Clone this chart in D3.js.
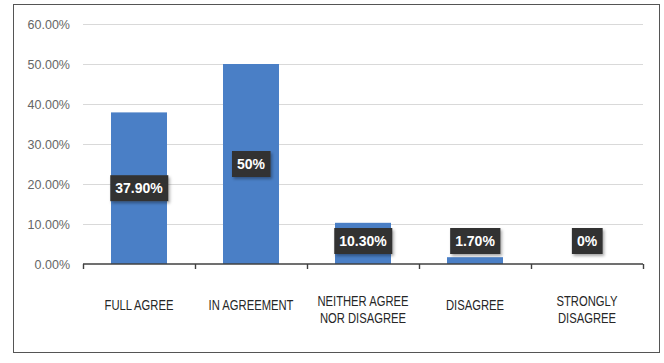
<!DOCTYPE html>
<html><head><meta charset="utf-8">
<script src="https://cdn.jsdelivr.net/npm/d3@7"></script>
<style>
html,body{margin:0;padding:0;background:#fff;}
svg{display:block;}
text{font-family:"Liberation Sans",Arial,sans-serif;}
</style></head>
<body>
<svg id="chart" width="664" height="363"></svg>
<script>
const categories = ["FULL AGREE", "IN AGREEMENT", "NEITHER AGREE\nNOR DISAGREE", "DISAGREE", "STRONGLY\nDISAGREE"];
const values = [37.9, 50, 10.3, 1.7, 0];
const valueLabels = ["37.90%", "50%", "10.30%", "1.70%", "0%"];
const yTicks = [0, 10, 20, 30, 40, 50, 60];

(function() {
const svg = d3.select("#chart");
const W = 664, H = 363;
svg.append("rect").attr("width", W).attr("height", H).attr("fill", "#fff");
svg.append("rect").attr("x", 13.5).attr("y", 4.5).attr("width", 646).attr("height", 348)
  .attr("fill", "#fff").attr("stroke", "#555").attr("stroke-width", 1);

const mLeft = 83, mRight = 643, mTop = 24, mBottom = 264;
const x = d3.scaleBand().domain(d3.range(categories.length)).range([mLeft, mRight]).paddingInner(0.5).paddingOuter(0.25);
const y = d3.scaleLinear().domain([0, 60]).range([mBottom, mTop]);

// gridlines
svg.append("g").selectAll("line").data(yTicks.filter(d => d > 0)).join("line")
  .attr("x1", mLeft).attr("x2", mRight)
  .attr("y1", d => Math.round(y(d)) + 0.5).attr("y2", d => Math.round(y(d)) + 0.5)
  .attr("stroke", "#d9d9d9").attr("stroke-width", 1.2);

// y axis labels
const yAxis = d3.axisLeft(y).tickValues(yTicks).tickFormat(d => d.toFixed(2) + "%").tickSize(0).tickPadding(0);
const gy = svg.append("g").attr("transform", `translate(${mLeft - 13},0)`).call(yAxis);
gy.select(".domain").remove();
gy.selectAll("text").attr("fill", "#666").style("font-size", "12.5px")
  .style("font-family", '"Liberation Sans",Arial,sans-serif');

// bars
svg.append("g").selectAll("rect").data(values).join("rect")
  .attr("x", (d, i) => x(i)).attr("width", x.bandwidth())
  .attr("y", d => y(d)).attr("height", d => mBottom - y(d))
  .attr("fill", "#4a7fc6");

// x axis
const xOuter = d3.scaleLinear().domain([0, categories.length]).range([mLeft, mRight]);
const gx = svg.append("g").attr("transform", `translate(0,${mBottom})`)
  .call(d3.axisBottom(xOuter).tickValues(d3.range(categories.length + 1)).tickSize(5).tickFormat(""));
gx.select(".domain").attr("stroke", "#404040").attr("stroke-width", 1.6).attr("d", `M${mLeft},0H${mRight}`);
gx.selectAll(".tick line").attr("stroke", "#404040").attr("stroke-width", 1.4);

// category labels (condensed look via horizontal scale)
const cl = svg.append("g").selectAll("text").data(categories).join("text")
  .attr("transform", (d, i) => {
    const multi = d.indexOf("\n") >= 0;
    return `translate(${x(i) + x.bandwidth() / 2},${multi ? 305.5 : 309.5}) scale(0.75,1)`;
  })
  .attr("text-anchor", "middle").attr("fill", "#262626")
  .style("font-size", "15px");
cl.each(function(d) {
  const lines = d.split("\n");
  const t = d3.select(this);
  lines.forEach((ln, k) => t.append("tspan").attr("x", 0).attr("dy", k === 0 ? 0 : 18).text(ln));
});

// data labels
const defs = svg.append("defs");
const f = defs.append("filter").attr("id", "sh").attr("x", "-20%").attr("y", "-20%").attr("width", "150%").attr("height", "160%");
f.append("feDropShadow").attr("dx", 1.5).attr("dy", 2).attr("stdDeviation", 1.5).attr("flood-color", "#000").attr("flood-opacity", 0.35);

const lg = svg.append("g").selectAll("g").data(values).join("g")
  .attr("transform", (d, i) => {
    const cy = Math.min((y(d) + mBottom) / 2, 241);
    return `translate(${x(i) + x.bandwidth() / 2},${cy})`;
  });
lg.append("text").attr("class", "lbl")
  .attr("text-anchor", "middle").attr("dy", "0.36em")
  .attr("fill", "#fff").style("font-weight", "bold").style("font-size", "14px")
  .text((d, i) => valueLabels[i]);
lg.each(function() {
  const g = d3.select(this);
  const bb = g.select("text").node().getBBox();
  g.insert("rect", "text")
    .attr("x", bb.x - 5).attr("y", -13).attr("width", bb.width + 10).attr("height", 26)
    .attr("fill", "#333333").attr("filter", "url(#sh)");
});
})();
</script>
</body></html>
